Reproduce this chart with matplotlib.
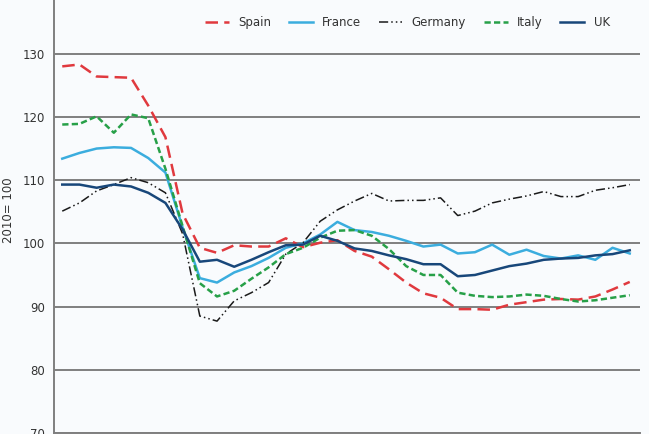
import numpy as np
import matplotlib
matplotlib.use("Agg")
import matplotlib.pyplot as plt

# quarterly index, 2010 = 100
quarters = np.arange(34)

spain = [128.0, 128.3, 126.4, 126.3, 126.2, 121.8, 116.8, 104.7, 99.3, 98.5,
         99.7, 99.5, 99.5, 100.8, 99.4, 100.1, 100.5, 98.8, 97.9, 95.9,
         93.8, 92.1, 91.4, 89.6, 89.6, 89.5, 90.3, 90.7, 91.1, 91.2,
         91.1, 91.6, 92.7, 93.9]
france = [113.4, 114.3, 115.0, 115.2, 115.1, 113.5, 111.2, 102.5, 94.5, 93.8,
          95.4, 96.4, 97.7, 99.3, 100.0, 101.4, 103.4, 102.1, 101.8, 101.2,
          100.4, 99.5, 99.8, 98.4, 98.6, 99.8, 98.2, 99.0, 98.0, 97.6,
          98.1, 97.4, 99.3, 98.4]
germany = [105.1, 106.4, 108.3, 109.3, 110.4, 109.6, 108.0, 101.5, 88.5, 87.7,
           90.9, 92.2, 93.8, 98.3, 100.1, 103.5, 105.3, 106.7, 107.9, 106.7,
           106.8, 106.8, 107.2, 104.4, 105.1, 106.4, 107.0, 107.5, 108.2, 107.4,
           107.4, 108.4, 108.8, 109.3]
italy = [118.8, 118.9, 120.1, 117.5, 120.4, 119.8, 111.8, 102.7, 93.7, 91.6,
         92.5, 94.4, 96.2, 98.3, 99.3, 100.9, 102.0, 102.1, 101.2, 99.1,
         96.4, 95.0, 95.0, 92.2, 91.7, 91.5, 91.6, 91.9, 91.7, 91.2,
         90.8, 91.0, 91.4, 91.8]
uk = [109.3, 109.3, 108.8, 109.3, 109.0, 108.0, 106.4, 102.2, 97.1, 97.4,
      96.3, 97.4, 98.6, 99.7, 99.8, 101.2, 100.4, 99.2, 98.8, 98.1,
      97.5, 96.7, 96.7, 94.8, 95.0, 95.7, 96.4, 96.8, 97.4, 97.6,
      97.7, 98.1, 98.3, 98.9]

bg = "#f9fbfd"
fig = plt.figure(figsize=(6.49, 4.34), dpi=100, facecolor=bg)
ax = fig.add_axes([0.0832, 0.0023, 0.903, 0.9977], facecolor=bg)

lw = 1.8
ax.plot(quarters, spain, color="#e0393e", lw=lw, dashes=(5, 2.5), label="Spain")
ax.plot(quarters, france, color="#3badde", lw=lw, label="France")
ax.plot(quarters, germany, color="#1a1a1a", lw=1.1, dashes=(6, 2, 1, 2, 1, 2), label="Germany")
ax.plot(quarters, italy, color="#27a048", lw=lw, dashes=(2.5, 1.3), label="Italy")
ax.plot(quarters, uk, color="#18477a", lw=lw, label="UK")

ax.set_xlim(-0.48, 33.6)
ax.set_ylim(70, 138.5)
ax.set_yticks([70, 80, 90, 100, 110, 120, 130])
ax.set_xticks([])
ax.yaxis.grid(True, color="#7f7f7f", lw=1.4)
ax.set_axisbelow(True)
ax.tick_params(axis="y", length=0, labelsize=8.5, labelcolor="#333333", pad=6.5)
for s in ["top", "right"]:
    ax.spines[s].set_visible(False)
for s in ["left", "bottom"]:
    ax.spines[s].set_color("#7f7f7f")
    ax.spines[s].set_linewidth(1.4)

ax.set_ylabel("2010= 100", fontsize=8.5, color="#333333")
ax.yaxis.set_label_coords(-0.066, 0.515)

leg = ax.legend(ncol=5, loc="center", bbox_to_anchor=(0.603, 0.947),
                frameon=False, fontsize=8.5, handlelength=2.0, columnspacing=1.5,
                handletextpad=0.8)
for t in leg.get_texts():
    t.set_color("#333333")

fig.savefig("out.png", dpi=100, facecolor=bg)
